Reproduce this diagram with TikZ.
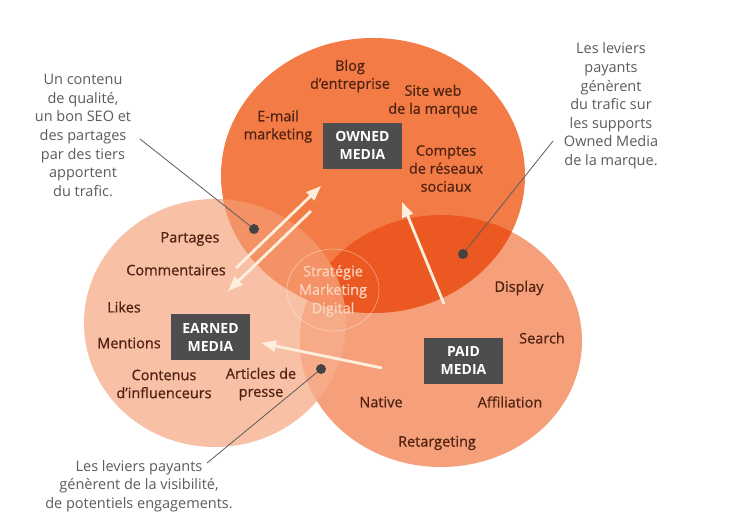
\documentclass[tikz,border=0pt]{standalone}
\usepackage{fontspec}
\setmainfont{Open Sans}
\newfontfamily\lblfont[FakeBold=0.7]{Open Sans}
\usetikzlibrary{arrows.meta}
\definecolor{owned}{RGB}{243,124,70}
\definecolor{earned}{RGB}{248,192,165}
\definecolor{paid}{RGB}{245,160,122}
\definecolor{opc}{RGB}{236,88,34}
\definecolor{oec}{RGB}{244,146,102}
\definecolor{epc}{RGB}{246,170,135}
\definecolor{lblc}{RGB}{80,34,18}
\definecolor{annc}{RGB}{92,92,94}
\definecolor{boxc}{RGB}{77,77,79}
\definecolor{arrc}{RGB}{253,238,222}
\definecolor{dotc}{RGB}{68,66,66}
\definecolor{stratc}{RGB}{250,212,190}
\begin{document}
\begin{tikzpicture}[x=1pt,y=-1pt,
  lbl/.style={text=lblc, font=\lblfont\fontsize{14.5}{18}\selectfont, align=center, inner sep=0pt},
  ann/.style={text=annc, font=\fontsize{14.5}{18.6}\selectfont, align=center, inner sep=0pt},
  media/.style={fill=boxc, text=white, font=\fontsize{14}{18}\selectfont\bfseries, align=center, minimum width=79pt, minimum height=46pt, inner sep=0pt},
  dotnode/.style={circle, fill=dotc, inner sep=0pt, minimum size=10pt},
  leader/.style={draw=annc, line width=0.8pt},
  flow/.style={draw=arrc, line width=2.8pt, -{Triangle[width=11pt,length=15pt]}},
  strat/.style={text=stratc, font=\lblfont\fontsize{14.5}{18.5}\selectfont, align=center, inner sep=0pt}]
\useasboundingbox[fill=white] (0,0) rectangle (741,520);
% circles
\fill[earned] (215,323) ellipse [x radius=131pt, y radius=124pt];
\fill[paid] (441,341) ellipse [x radius=141pt, y radius=126pt];
\fill[owned] (373,175.5) ellipse [x radius=152pt, y radius=137.5pt];
\begin{scope}
  \clip (215,323) ellipse [x radius=131pt, y radius=124pt];
  \fill[epc] (441,341) ellipse [x radius=141pt, y radius=126pt];
\end{scope}
\begin{scope}
  \clip (373,175.5) ellipse [x radius=152pt, y radius=137.5pt];
  \fill[opc] (441,341) ellipse [x radius=141pt, y radius=126pt];
  \fill[oec] (215,323) ellipse [x radius=131pt, y radius=124pt];
\end{scope}
% centre
\draw[white, opacity=0.45, line width=0.6pt] (333,290) ellipse [x radius=46pt, y radius=41pt];
\node[strat] (strat) at (333,291) {Stratégie\\Marketing\\Digital};
% owned
\node[media] (owned) at (362.5,145.5) {OWNED\\MEDIA};
\node[lbl] (blog) at (350,76) {Blog\\d’entreprise};
\node[lbl] (site) at (433,101) {Site web\\de la marque};
\node[lbl] (email) at (278,126.5) {E-mail\\marketing};
\node[lbl] (comptes) at (446,168.5) {Comptes\\de réseaux\\sociaux};
% earned
\node[media] (earned) at (210.5,337) {EARNED\\MEDIA};
\node[lbl] (partages) at (190,239) {Partages};
\node[lbl] (comm) at (176,270) {Commentaires};
\node[lbl] (likes) at (124,307) {Likes};
\node[lbl] (mentions) at (129,343) {Mentions};
\node[lbl] (contenus) at (164,384) {Contenus\\d’influenceurs};
\node[lbl] (articles) at (261,384) {Articles de\\presse};
% paid
\node[media] (paidbox) at (463.5,360.5) {PAID\\MEDIA};
\node[lbl] (display) at (519,288) {Display};
\node[lbl] (search) at (542,338) {Search};
\node[lbl] (affil) at (510,402) {Affiliation};
\node[lbl] (native) at (381,402) {Native};
\node[lbl] (retarg) at (437,443) {Retargeting};
% flows
\coordinate (eoA) at (236,268);
\coordinate (eoB) at (321,186);
\coordinate (oeA) at (311,211);
\coordinate (oeB) at (228,291);
\coordinate (poA) at (444,304);
\coordinate (poB) at (402,202);
\coordinate (peA) at (382,368);
\coordinate (peB) at (261,343);
\draw[flow] (eoA) -- (eoB);
\draw[flow] (oeA) -- (oeB);
\draw[flow] (poA) -- (poB);
\draw[flow] (peA) -- (peB);
% annotations
\node[ann] (annL) at (83,135.5) {Un contenu\\de qualité,\\un bon SEO et\\des partages\\par des tiers\\apportent\\du trafic.};
\node[ann] (annR) at (611,106) {Les leviers\\payants\\génèrent\\du trafic sur\\les supports\\Owned Media\\de la marque.};
\node[ann] (annB) at (139,486) {Les leviers payants\\génèrent de la visibilité,\\de potentiels engagements.};
\node[dotnode] (dotL) at (254,229) {};
\node[dotnode] (dotR) at (463,254) {};
\node[dotnode] (dotB) at (321,369) {};
\coordinate (lL) at (140,139);
\coordinate (lR) at (553,141);
\coordinate (lB) at (207,463);
\draw[leader] (lL) -- (dotL);
\draw[leader] (lR) -- (dotR);
\draw[leader] (lB) -- (dotB);
\end{tikzpicture}
\end{document}
